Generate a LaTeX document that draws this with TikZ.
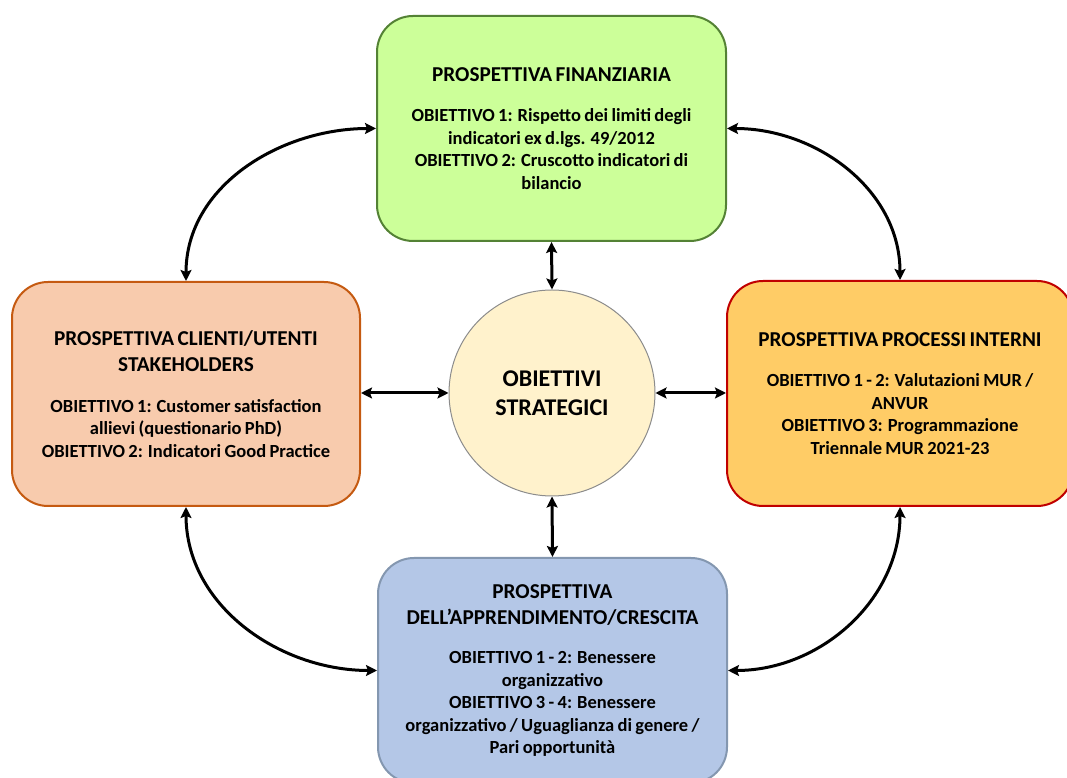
\documentclass[tikz,border=0pt]{standalone}
\usepackage{fontspec}
\setmainfont{Carlito}
\usetikzlibrary{arrows.meta}
\definecolor{finfill}{HTML}{CCFF99}
\definecolor{findraw}{HTML}{548235}
\definecolor{clifill}{HTML}{F8CBAD}
\definecolor{clidraw}{HTML}{C55A11}
\definecolor{profill}{HTML}{FFCC66}
\definecolor{prodraw}{HTML}{C00000}
\definecolor{appfill}{HTML}{B4C7E7}
\definecolor{appdraw}{HTML}{8497B0}
\definecolor{cirfill}{HTML}{FFF2CC}
\definecolor{cirdraw}{HTML}{8C8C8C}
\newcommand\phdr{\fontsize{21.2}{26}\selectfont}
\newcommand\pbody{\fontsize{18.5}{22.5}\selectfont}
\begin{document}
\begin{tikzpicture}[x=1pt,y=1pt,font=\bfseries,
  pbox/.style={draw, line width=2pt, rounded corners=36pt, minimum width=349pt,
    minimum height=225pt, text width=342pt, align=center, inner sep=0pt},
  conn/.style={line width=3pt,
    {Stealth[length=11pt,width=11pt,inset=2pt]}-{Stealth[length=11pt,width=11pt,inset=2pt]}}]
\useasboundingbox (0,0) rectangle (1067,778);
\clip (0,0) rectangle (1067,778);

\node[pbox, fill=finfill, draw=findraw] (T) at (551.5,649.5)
  {{\phdr PROSPETTIVA FINANZIARIA\par}\vskip 18pt
   {\pbody OBIETTIVO 1: Rispetto dei limiti degli\\ indicatori ex d.lgs. 49/2012\\
    OBIETTIVO 2: Cruscotto indicatori di\\ bilancio\par}};

\node[pbox, fill=clifill, draw=clidraw, minimum width=348pt, minimum height=224pt] (L) at (186,384)
  {{\phdr PROSPETTIVA CLIENTI/UTENTI\\ STAKEHOLDERS\par}\vskip 18pt
   {\pbody OBIETTIVO 1: Customer satisfaction\\ allievi (questionario PhD)\\
    OBIETTIVO 2: Indicatori Good Practice\par}};

\node[pbox, fill=profill, draw=prodraw, minimum width=346pt] (R) at (900,384.5)
  {{\phdr PROSPETTIVA PROCESSI INTERNI\par}\vskip 18pt
   {\pbody OBIETTIVO 1 - 2: Valutazioni MUR /\\ ANVUR\\
    OBIETTIVO 3: Programmazione\\ Triennale MUR 2021-23\par}};

\node[pbox, fill=appfill, draw=appdraw] (B) at (552.5,107.5)
  {{\phdr PROSPETTIVA\\ DELL’APPRENDIMENTO/CRESCITA\par}\vskip 17pt
   {\pbody OBIETTIVO 1 - 2: Benessere\\ organizzativo\\
    OBIETTIVO 3 - 4: Benessere\\ organizzativo / Uguaglianza di genere /\\
    Pari opportunità\par}};

\node[circle, draw=cirdraw, line width=1pt, fill=cirfill, minimum size=206pt,
  inner sep=0pt, align=center, font=\bfseries\fontsize{24}{29}\selectfont] (C) at (552,385)
  {OBIETTIVI\\ STRATEGICI};

\draw[conn] (T.south) -- (C.north);
\draw[conn] (C.south) -- (B.north);
\draw[conn] (C.west -| L.east) -- (C.west);
\draw[conn] (C.east) -- (C.east -| R.west);

\draw[conn] (L.north) to[out=90,in=180] (T.west);
\draw[conn] (T.east) to[out=0,in=90] (R.north);
\draw[conn] (L.south) to[out=-90,in=180] (B.west);
\draw[conn] (B.east) to[out=0,in=-90] (R.south);
\end{tikzpicture}
\end{document}
